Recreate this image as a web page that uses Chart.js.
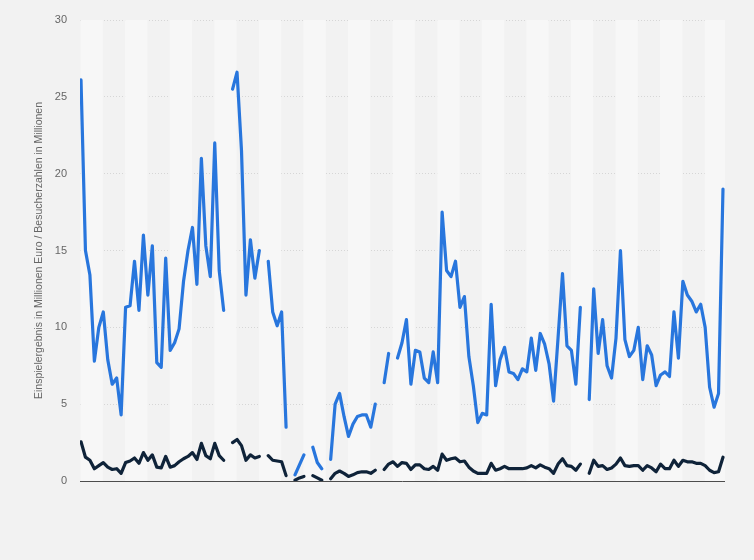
<!DOCTYPE html>
<html>
<head>
<meta charset="utf-8">
<script src="https://cdn.jsdelivr.net/npm/chart.js@4/dist/chart.umd.min.js"></script>
<style>
  html, body { margin: 0; padding: 0; background: #f2f2f2; }
  #wrap { width: 754px; height: 560px; }
</style>
</head>
<body>
<div id="wrap"><canvas id="film-chart" width="754" height="560"></canvas></div>
<script>
// Einspielergebnis in Mio. Euro (null = no value)
const revenue = [
  26.1, 15.0, 13.4, 7.8, 10.0, 11.0, 7.9, 6.3, 6.7, 4.3,
  11.3, 11.4, 14.3, 11.1, 16.0, 12.1, 15.3, 7.7, 7.4, 14.5,
  8.5, 9.0, 9.9, 13.0, 15.0, 16.5, 12.8, 21.0, 15.3, 13.3,
  22.0, 13.7, 11.1, null, 25.5, 26.6, 21.5, 12.1, 15.7, 13.2,
  15.0, null, 14.3, 11.0, 10.1, 11.0, 3.5, null, 0.4, 1.05,
  1.7, null, 2.2, 1.2, 0.8, null, 1.4, 5.0, 5.7, 4.2,
  2.9, 3.7, 4.2, 4.3, 4.3, 3.5, 5.0, null, 6.4, 8.3,
  null, 8.0, 9.0, 10.5, 6.3, 8.5, 8.4, 6.7, 6.4, 8.4,
  6.4, 17.5, 13.7, 13.3, 14.3, 11.3, 12.0, 8.1, 6.2, 3.8,
  4.4, 4.3, 11.5, 6.2, 7.9, 8.7, 7.1, 7.0, 6.6, 7.3,
  7.1, 9.3, 7.2, 9.6, 8.9, 7.6, 5.2, 9.3, 13.5, 8.8,
  8.5, 6.3, 11.3, null, 5.3, 12.5, 8.3, 10.5, 7.5, 6.7,
  9.3, 15.0, 9.2, 8.1, 8.5, 10.0, 6.6, 8.8, 8.2, 6.2,
  6.9, 7.1, 6.8, 11.0, 8.0, 13.0, 12.1, 11.7, 11.0, 11.5,
  10.0, 6.1, 4.8, 5.7, 19.0,
];

// Besucherzahlen in Mio.
const visitors = [
  2.55, 1.55, 1.35, 0.8, 1.0, 1.2, 0.9, 0.75, 0.8, 0.5,
  1.2, 1.3, 1.5, 1.15, 1.85, 1.35, 1.7, 0.9, 0.85, 1.6,
  0.9, 1.0, 1.25, 1.45, 1.6, 1.85, 1.4, 2.45, 1.65, 1.45,
  2.45, 1.65, 1.35, null, 2.5, 2.7, 2.3, 1.35, 1.7, 1.5,
  1.6, null, 1.65, 1.35, 1.3, 1.25, 0.35, null, 0.05, 0.2,
  0.3, null, 0.35, 0.2, 0.05, null, 0.15, 0.5, 0.65, 0.5,
  0.3, 0.4, 0.55, 0.6, 0.6, 0.5, 0.7, null, 0.75, 1.1,
  1.25, 0.95, 1.2, 1.15, 0.75, 1.05, 1.05, 0.8, 0.75, 0.95,
  0.7, 1.75, 1.35, 1.45, 1.5, 1.25, 1.3, 0.9, 0.65, 0.5,
  0.5, 0.5, 1.15, 0.7, 0.8, 0.95, 0.8, 0.8, 0.8, 0.8,
  0.85, 1.0, 0.85, 1.05, 0.9, 0.8, 0.5, 1.1, 1.45, 1.0,
  0.95, 0.7, 1.1, null, 0.5, 1.35, 0.95, 1.0, 0.75, 0.85,
  1.1, 1.5, 1.0, 0.95, 1.0, 1.0, 0.7, 1.0, 0.85, 0.6,
  1.1, 0.8, 0.8, 1.35, 0.95, 1.35, 1.25, 1.25, 1.15, 1.15,
  1.0, 0.7, 0.55, 0.6, 1.55,
];

const yTicks = [0, 5, 10, 15, 20, 25, 30];
const yTitle = "Einspielergebnis in Millionen Euro / Besucherzahlen in Millionen";
const pointsPerBand = 5;

function toPoints(values) {
  return values.map(function (v, i) {
    return { x: i, y: v };
  });
}

// alternating column bands + bottom axis line
const bandPlugin = {
  id: "bands",
  beforeDatasetsDraw(chart) {
    const { ctx, chartArea, scales } = chart;
    const bands = Math.ceil(revenue.length / pointsPerBand);
    ctx.save();
    ctx.fillStyle = "#f7f7f7";
    for (let k = 0; k < bands; k += 2) {
      const x1 = Math.max(scales.x.getPixelForValue(k * pointsPerBand - 0.1), chartArea.left);
      const x2 = Math.min(scales.x.getPixelForValue((k + 1) * pointsPerBand - 0.1), chartArea.right);
      ctx.fillRect(x1, chartArea.top, x2 - x1, chartArea.bottom - chartArea.top);
    }
    ctx.restore();
  },
  afterDatasetsDraw(chart) {
    const { ctx, chartArea } = chart;
    ctx.save();
    ctx.strokeStyle = "#4d4d4d";
    ctx.lineWidth = 1;
    ctx.beginPath();
    ctx.moveTo(chartArea.left, chartArea.bottom + 0.5);
    ctx.lineTo(chartArea.right, chartArea.bottom + 0.5);
    ctx.stroke();
    ctx.restore();
  },
};

function drawChart() {
  const ctx = document.getElementById("film-chart");
  const myChart = new Chart(ctx, {
    type: "line",
    data: {
      datasets: [
        {
          label: "Einspielergebnis",
          data: toPoints(revenue),
          borderColor: "#2876dd",
          borderWidth: 3.2,
          pointRadius: 0,
          tension: 0,
          borderJoinStyle: "round",
          borderCapStyle: "round",
          spanGaps: false,
          order: 2,
        },
        {
          label: "Besucherzahlen",
          data: toPoints(visitors),
          borderColor: "#0f2339",
          borderWidth: 3.2,
          pointRadius: 0,
          tension: 0,
          borderJoinStyle: "round",
          borderCapStyle: "round",
          spanGaps: false,
          order: 1,
        },
      ],
    },
    options: {
      responsive: false,
      animation: false,
      devicePixelRatio: 1,
      layout: {
        padding: { left: 0, right: 29, top: 20, bottom: 79 },
      },
      plugins: {
        legend: { display: false },
        tooltip: { enabled: false },
      },
      scales: {
        x: {
          type: "linear",
          display: false,
          min: -0.224,
          max: 144.45,
        },
        y: {
          type: "linear",
          min: 0,
          max: 30,
          afterFit: function (scale) {
            scale.width = 80;
          },
          afterBuildTicks: function (scale) {
            scale.ticks = yTicks.map(function (v) {
              return { value: v };
            });
          },
          ticks: {
            padding: 13,
            color: "#666666",
            font: { family: "'Liberation Sans', Arial, sans-serif", size: 11 },
          },
          grid: {
            color: "#d6d6d6",
            lineWidth: 1,
            drawTicks: false,
          },
          border: { display: false, dash: [1, 2] },
          title: {
            display: true,
            text: yTitle,
            color: "#666666",
            padding: { top: 33, bottom: 0 },
            font: { family: "'Liberation Sans', Arial, sans-serif", size: 10.5 },
          },
        },
      },
    },
    plugins: [bandPlugin],
  });
  return myChart;
}

drawChart();
</script>
</body>
</html>
